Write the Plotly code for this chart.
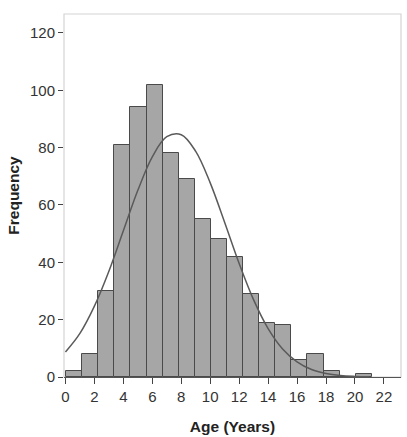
import plotly.graph_objects as go

# Histogram data
counts = [2, 8, 30, 81, 94, 102, 78, 69, 55, 48, 42, 29, 19, 18, 6, 8, 2, 0, 1]
bin_start = 0.04
bin_width = 1.112

# Normal curve overlay, values read at whole years
curve_x = [0, 1, 2, 3, 4, 5, 6, 7, 8, 9, 10, 11, 12, 13, 14, 15, 16, 17, 18, 19, 20, 21]
curve_y = [8.7, 15.2, 24.7, 36.9, 51.0, 65.1, 76.8, 83.8, 84.5, 78.7, 67.7, 53.9,
           39.6, 26.9, 16.9, 9.8, 5.3, 2.6, 1.2, 0.5, 0.2, 0.07]

x_ticks = [0, 2, 4, 6, 8, 10, 12, 14, 16, 18, 20, 22]
y_ticks = [0, 20, 40, 60, 80, 100, 120]

centers = [bin_start + (i + 0.5) * bin_width for i in range(len(counts))]

fig = go.Figure()
fig.add_trace(go.Bar(
    x=centers, y=counts, width=[bin_width] * len(counts),
    marker=dict(color="#a6a6a6", line=dict(color="#4a4a4a", width=1)),
    hoverinfo="skip",
))
fig.add_trace(go.Scatter(
    x=curve_x, y=curve_y, mode="lines",
    line=dict(color="#5a5a5a", width=1.5, shape="spline", smoothing=1.0),
    hoverinfo="skip",
))

font_family = "Liberation Sans, Arial, Helvetica, sans-serif"
fig.update_layout(
    width=407, height=437,
    margin=dict(l=64, r=6, t=14, b=60),
    paper_bgcolor="white", plot_bgcolor="white",
    showlegend=False,
    font=dict(family=font_family, size=14, color="#333333"),
    shapes=[dict(type="rect", xref="paper", yref="paper", x0=0, y0=0, x1=1, y1=1,
                 line=dict(color="#d4d4d4", width=1.2), layer="below")],
    xaxis=dict(
        range=[-0.1, 23.18], tickvals=x_ticks, ticktext=[str(v) for v in x_ticks],
        ticks="outside", ticklen=6, tickcolor="#444444", tickwidth=1.2,
        showgrid=False, zeroline=False, showline=True, linecolor="#555555", linewidth=1.3,
        title=dict(text="<b>Age (Years)</b>", font=dict(size=15.5, color="#222222"), standoff=16),
        tickfont=dict(size=15, color="#333333"),
    ),
    yaxis=dict(
        range=[0, 126.6], tickvals=y_ticks, ticktext=[str(v) for v in y_ticks],
        ticks="outside", ticklen=5, tickcolor="#444444", tickwidth=1.2,
        showgrid=False, zeroline=False, showline=False,
        title=dict(text="<b>Frequency</b>", font=dict(size=15.5, color="#222222"), standoff=6),
        tickfont=dict(size=15, color="#333333"),
    ),
    bargap=0,
)

fig.write_html("out.html")
